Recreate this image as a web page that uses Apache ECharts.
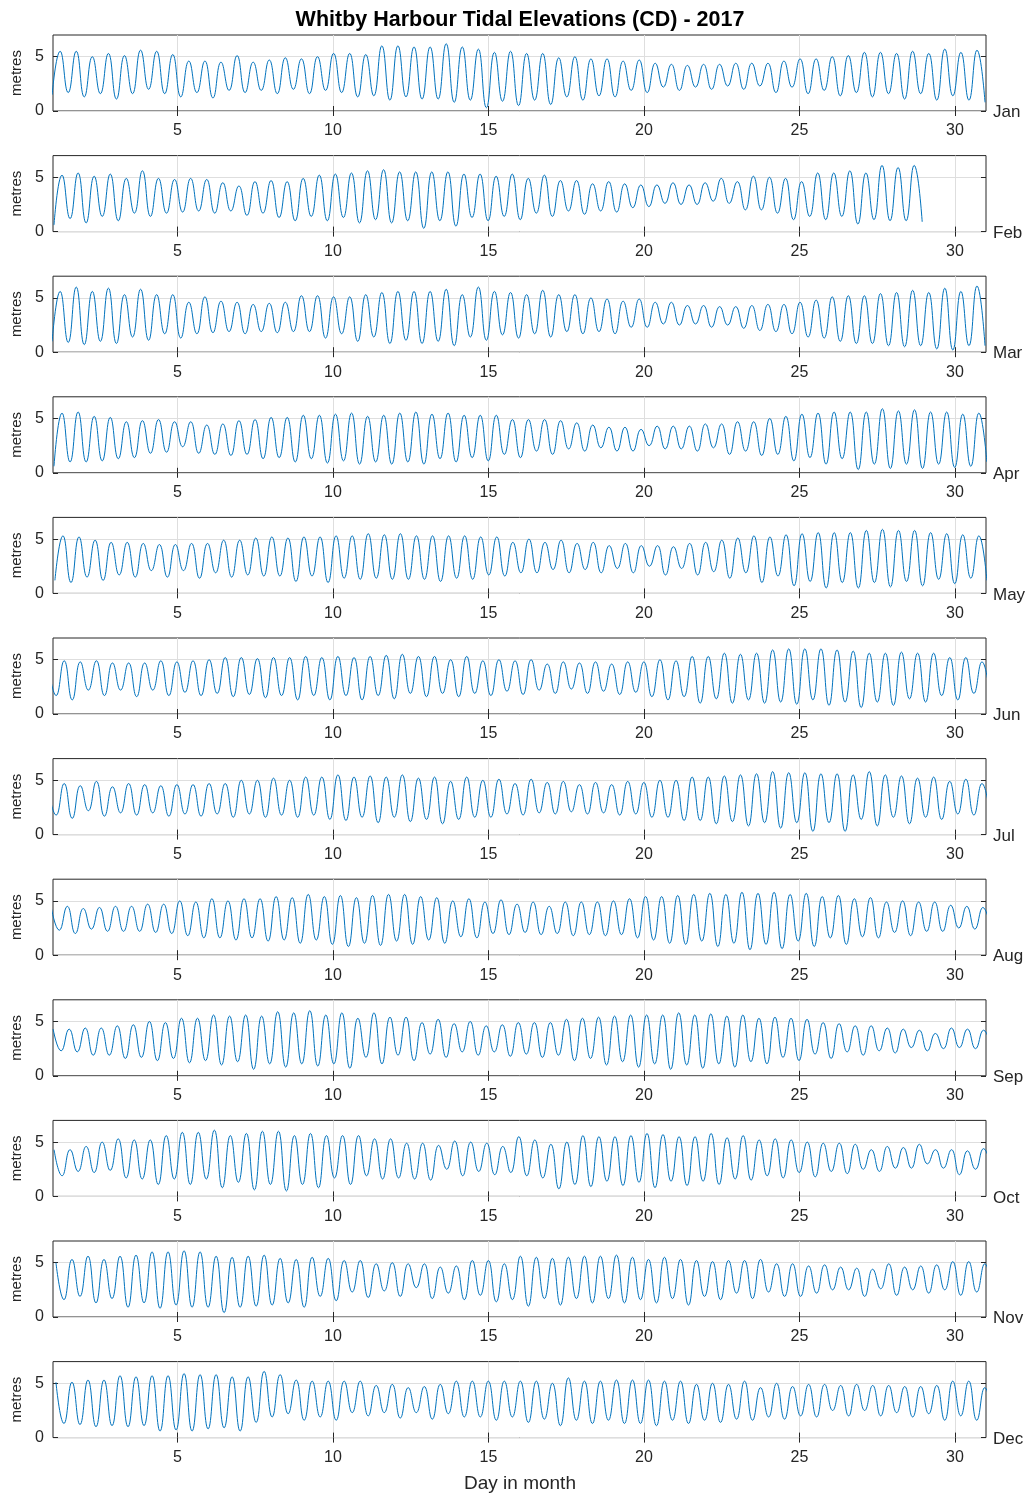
<!DOCTYPE html>
<html>
<head>
<meta charset="utf-8">
<script src="https://cdn.jsdelivr.net/npm/echarts@6/dist/echarts.min.js"></script>
<style>
html,body{margin:0;padding:0;background:#fff;}
#chart{width:1030px;height:1496px;}
</style>
</head>
<body>
<div id="chart"></div>
<script>
// ---- Data ----
const months = ['Jan','Feb','Mar','Apr','May','Jun','Jul','Aug','Sep','Oct','Nov','Dec'];
const xTicks = [5,10,15,20,25,30];
const yTicks = [0,5];
// time (day in month) of first and last high water in each panel
const firstHigh = [1.23,1.29,1.23,1.29,1.32,1.36,1.36,1.46,1.52,1.55,1.61,1.61];
const lastHigh  = [30.71,28.69,30.71,30.77,30.77,30.87,30.87,30.90,30.92,30.92,30.96,30.96];
// high water preceding the first low (only where the panel starts on a falling tide)
const leadHigh  = [null,null,null,null,null,4.7,4.3,4.4,4.3,4.3,5.0,5.1];

// successive high-water heights (m)
const janHigh = [5.5,5.5,5.0,5.3,5.1,5.6,5.5,5.2,4.6,4.6, 4.5,5.1,4.5,4.7,4.9,4.8,5.0,5.3,5.3,5.2, 6.0,6.0,5.9,5.9,6.2,5.9,5.7,5.4,5.5,5.3, 5.3,4.9,5.0,4.8,4.8,4.6,4.7,4.4,4.3,4.2, 4.3,4.3,4.4,4.4,4.4,4.6,4.8,4.8,5.0,5.1, 5.4,5.4,5.3,5.5,5.3,5.7,5.4,5.6];
const febHigh = [5.2,5.4,5.1,5.3,4.9,5.6,4.9,4.8,4.9,4.8, 4.5,4.2,4.6,4.7,4.6,4.9,5.2,5.3,5.4,5.6, 5.7,5.5,5.5,5.5,5.5,5.3,5.3,5.1,5.3,4.9, 5.2,4.7,4.7,4.4,4.6,4.4,4.3,4.3,4.5,4.3, 4.5,4.9,4.6,5.1,5.0,4.9,4.6,5.4,5.4,5.6, 5.4,6.1,5.9,6.1];
const marHigh = [5.6,6.0,5.6,5.9,5.3,5.8,5.3,5.3,4.6,5.1, 4.7,4.6,4.4,4.5,4.6,5.2,5.2,5.1,5.1,5.3, 5.5,5.6,5.6,5.6,5.8,5.3,6.0,5.6,5.5,5.3, 5.7,5.3,5.3,5.0,4.9,4.7,4.9,4.6,4.6,4.3, 4.3,4.2,4.2,4.3,4.4,4.4,4.6,4.8,5.1,5.2, 5.2,5.4,5.5,5.7,5.5,5.9,5.6,6.1];
const aprHigh = [5.5,5.6,5.2,5.1,4.7,4.8,4.9,4.7,4.7,4.4, 4.5,4.8,4.9,5.1,5.1,5.3,5.3,5.4,5.5,5.2, 5.3,5.5,5.6,5.4,5.5,5.3,5.3,5.3,4.9,4.9, 4.9,4.8,4.6,4.4,4.2,4.2,4.0,4.3,4.3,4.3, 4.5,4.5,4.7,4.7,5.0,5.2,5.4,5.5,5.6,5.6, 5.6,5.9,5.7,5.8,5.6,5.6,5.4,5.5];
const mayHigh = [5.3,5.2,4.9,4.7,4.7,4.6,4.5,4.5,4.6,4.6, 4.9,4.9,5.1,5.2,5.1,5.2,5.2,5.3,5.3,5.5, 5.4,5.5,5.3,5.3,5.3,5.3,5.2,5.2,4.7,5.0, 4.7,4.9,4.6,4.7,4.4,4.6,4.4,4.4,4.3,4.6, 4.7,4.9,5.1,5.3,5.2,5.4,5.5,5.6,5.6,5.6, 5.8,5.9,5.8,5.8,5.6,5.5,5.4,5.3];
const junHigh = [4.9,4.8,4.9,4.7,4.7,4.7,4.9,4.8,4.9,5.0, 5.2,5.2,5.1,5.2,5.2,5.3,5.2,5.3,5.2,5.3, 5.4,5.5,5.3,5.3,5.0,5.3,4.9,5.0,4.9,5.0, 4.6,4.8,4.7,4.8,4.6,4.8,4.8,5.0,4.9,5.3, 5.3,5.6,5.5,5.6,5.9,6.0,6.0,6.0,5.9,5.8, 5.6,5.6,5.7,5.6,5.6,5.2,5.2,4.8];
const julHigh = [4.7,4.5,4.9,4.4,4.7,4.6,4.5,4.6,4.6,4.7, 4.7,5.0,5.0,5.2,5.0,5.3,5.3,5.5,5.3,5.4, 5.3,5.5,5.2,5.3,4.9,5.3,5.0,5.1,4.7,5.1, 4.8,4.9,4.6,4.8,4.6,4.9,4.8,5.0,5.0,5.3, 5.3,5.4,5.5,5.6,5.8,5.7,5.7,5.6,5.6,5.5, 5.8,5.5,5.4,5.2,5.3,4.9,5.1,4.7];
const augHigh = [4.5,4.3,4.4,4.5,4.5,4.7,4.7,5.0,4.9,5.2, 5.0,5.2,5.2,5.4,5.3,5.6,5.4,5.5,5.3,5.5, 5.6,5.6,5.4,5.3,5.0,5.2,4.9,5.1,4.7,4.9, 4.5,4.9,4.9,4.9,5.0,5.2,5.4,5.4,5.5,5.6, 5.7,5.6,5.8,5.7,5.8,5.6,5.7,5.4,5.5,5.2, 5.3,4.9,5.0,4.9,4.9,4.6,4.5,4.4];
const sepHigh = [4.3,4.4,4.4,4.6,4.7,5.0,4.9,5.3,5.3,5.6, 5.5,5.6,5.5,5.9,5.8,6.0,5.6,5.8,5.3,5.8, 5.4,5.4,4.9,5.2,4.8,5.0,4.6,4.7,4.9,4.9, 4.9,5.2,5.3,5.4,5.5,5.6,5.6,5.6,5.8,5.6, 5.7,5.5,5.6,5.3,5.4,5.3,5.2,4.9,4.8,4.6, 4.6,4.4,4.3,4.2,3.9,4.4,4.3,4.2];
const octHigh = [4.3,4.6,5.0,5.3,5.2,5.2,5.6,5.9,5.9,6.1, 5.6,5.8,6.0,6.0,5.6,5.8,5.6,5.6,5.6,5.3, 5.3,4.9,4.9,4.7,5.1,5.0,4.9,4.6,5.5,5.2, 4.8,5.0,5.6,5.5,5.5,5.6,5.8,5.7,5.5,5.5, 5.8,5.4,5.6,5.2,5.3,5.2,5.0,4.9,4.9,4.8, 4.3,4.6,4.5,4.8,4.3,4.3,4.2,4.4];
const novHigh = [5.3,5.6,5.3,5.6,5.7,6.0,6.0,6.1,6.0,5.6, 5.5,5.6,5.7,5.4,5.3,5.5,5.4,5.2,5.2,4.9, 5.0,4.9,4.9,4.6,4.7,5.2,5.2,4.9,5.6,5.5, 5.4,5.5,5.6,5.6,5.7,5.5,5.3,5.5,5.3,5.2, 5.1,5.2,5.2,5.3,4.9,4.9,4.7,4.8,4.6,4.5, 4.4,4.9,4.6,4.7,4.8,5.1,5.1,4.9];
const decHigh = [5.1,5.3,5.3,5.7,5.6,5.7,5.7,5.9,5.8,5.8, 5.6,5.6,6.1,5.8,5.3,5.2,5.2,5.2,5.2,4.8, 4.9,4.6,4.7,4.9,5.2,5.2,5.2,5.2,5.2,5.2, 5.0,5.5,5.2,5.2,5.3,5.3,5.3,5.2,5.2,4.9, 5.0,4.9,5.2,4.6,5.0,4.7,4.9,4.9,4.8,4.9, 4.8,4.8,4.7,4.7,4.8,5.2,5.2,4.6];

// successive low-water heights (m); the first low precedes the first high
const janLow = [1.5, 1.7,1.3,1.6,1.1,1.6,2.0,1.6,1.3,1.7,1.2, 1.9,1.7,1.9,1.6,2.0,1.6,1.9,1.7,1.3,1.4, 1.0,1.3,1.1,1.1,0.8,1.0,0.3,0.9,0.5,1.0, 0.6,1.3,1.0,1.4,1.3,1.9,1.7,2.2,1.9,2.2, 2.0,2.3,2.0,2.3,1.7,2.2,1.6,1.9,1.4,1.7, 1.3,1.6,1.1,1.6,1.0,1.4,1.0,0.8];
const febLow = [0.6, 1.2,0.8,1.4,1.0,1.7,1.4,1.7,1.8,1.9,1.7, 1.9,1.5,1.7,1.3,1.0,1.4,1.0,1.3,0.8,1.1, 0.8,1.0,0.3,1.0,0.5,1.3,1.0,1.4,1.1,1.7, 1.4,1.9,1.6,1.9,1.8,2.2,2.3,2.6,2.5,2.5, 2.8,2.6,2.0,2.0,1.7,1.1,1.4,1.1,1.4,0.7, 1.1,1.0,1.0,0.9];
const marLow = [1.0, 0.9,0.7,1.0,0.8,1.4,1.1,1.7,1.3,1.7,1.8, 1.9,1.7,1.9,1.8,1.9,1.9,1.3,1.7,1.0,1.4, 0.8,1.1,0.8,1.0,0.6,1.4,1.1,1.6,1.3,1.7, 1.4,1.9,1.7,1.9,1.7,2.3,2.3,2.6,2.5,2.6, 2.3,2.5,2.2,2.0,1.9,1.7,1.4,1.3,1.0,0.8, 0.8,0.6,0.5,0.6,0.3,0.2,0.6,0.6];
const aprLow = [0.6, 1.0,1.0,1.1,1.3,1.4,1.8,1.9,2.4,1.8,1.7, 1.6,1.7,1.3,1.4,1.0,1.3,0.9,1.1,0.8,1.0, 0.8,1.0,0.8,1.3,1.0,1.4,1.1,1.7,1.4,2.0, 1.7,2.2,2.0,2.3,2.0,2.0,2.5,2.2,2.2,2.0, 2.3,1.7,2.0,1.6,1.7,1.1,1.4,0.8,1.3,0.3, 0.8,0.4,0.8,0.4,0.8,0.5,0.6,1.0];
const mayLow = [1.2, 1.0,1.5,1.2,1.7,1.5,2.1,1.5,2.1,1.4,1.9, 1.5,1.7,1.6,1.6,1.1,1.6,1.0,1.4,1.3,1.4, 1.3,1.3,1.3,1.1,1.4,1.3,1.7,1.6,1.9,1.9, 2.2,1.9,2.2,1.9,2.3,1.9,2.5,1.7,2.3,1.7, 2.0,1.4,1.9,1.0,1.6,0.7,1.1,0.5,1.0,0.5, 1.0,0.6,1.1,0.7,1.3,0.9,1.4,1.2];
const junLow = [1.7, 1.3,2.2,1.7,2.2,1.6,2.2,1.7,2.0,1.7,1.9, 1.6,1.8,1.5,1.7,1.3,1.7,1.3,1.7,1.3,1.7, 1.4,1.9,1.6,1.9,1.6,1.9,1.7,2.1,1.8,2.2, 1.9,2.3,1.9,2.1,1.8,2.0,1.6,1.3,1.6,1.0, 1.4,1.0,1.3,1.0,1.1,0.9,1.3,0.8,1.1,0.6, 1.1,0.8,1.4,1.1,1.7,1.3,1.9,1.7];
const julLow = [1.8, 1.5,2.2,1.7,2.0,1.8,2.0,1.7,1.9,1.7,1.9, 1.6,1.9,1.6,1.8,1.6,1.8,1.4,1.3,1.6,1.1, 1.6,1.2,1.4,1.0,1.4,1.6,1.6,1.9,1.8,2.0, 1.9,2.1,1.9,2.0,1.8,1.9,1.6,1.6,1.3,1.3, 1.0,1.2,0.8,1.1,0.6,1.1,0.3,1.1,0.3,1.4, 0.8,1.6,1.0,1.6,1.4,1.9,1.8,1.9];
const augLow = [2.3, 2.0,2.4,2.2,2.2,2.2,2.1,2.0,1.8,1.6,1.6, 1.4,1.6,1.3,1.4,1.1,1.4,1.0,0.8,1.1,0.9, 1.3,1.0,1.4,1.1,1.7,1.6,2.0,1.9,2.1,1.9, 2.0,1.8,1.9,1.8,1.9,1.6,1.4,1.1,1.0,1.3, 0.8,1.1,0.5,1.0,0.6,1.3,0.8,1.6,1.0,1.7, 1.6,2.1,1.8,2.2,2.2,2.5,2.4,2.3];
const sepLow = [2.3, 2.2,1.9,1.9,1.6,1.7,1.4,1.6,1.2,1.4,1.0, 1.3,0.6,1.1,0.8,1.1,0.9,1.1,0.7,1.7,1.1, 1.9,1.4,2.0,1.7,2.2,1.9,2.2,1.8,2.0,1.7, 1.9,1.4,1.6,1.0,1.3,0.8,1.1,0.6,1.0,0.7, 1.1,0.8,1.3,1.1,1.7,1.4,2.0,1.6,2.2,1.9, 2.3,2.1,2.6,2.3,2.5,2.6,2.5,2.5];
const octLow = [1.9, 2.3,2.2,2.4,1.7,1.6,1.1,1.6,1.1,1.6,0.8, 1.3,0.6,1.1,0.5,1.1,0.8,1.7,1.1,1.9,1.6, 1.7,1.6,1.5,2.5,1.9,2.3,2.0,2.2,1.9,1.7, 0.7,1.1,0.9,1.4,1.0,1.3,0.8,1.4,1.0,1.4, 1.1,1.6,1.5,1.9,1.7,2.2,1.8,2.3,2.1,2.5, 2.3,2.6,2.6,3.0,2.6,2.0,2.5,2.5];
const novLow = [1.6, 1.9,1.3,1.7,0.9,1.3,0.8,1.1,0.9,0.9,0.4, 0.9,1.0,1.1,1.3,0.9,1.9,1.5,2.3,1.8,2.4, 1.9,2.7,1.7,2.2,1.6,2.0,1.4,1.6,1.0,1.7, 1.1,1.7,1.3,1.7,1.3,1.6,1.3,1.7,1.1,1.9, 1.6,2.2,1.7,2.3,1.9,1.9,2.2,2.5,2.5,1.9, 2.6,2.0,2.5,2.2,2.5,2.0,2.3,2.0];
const decLow = [1.3, 1.2,1.0,1.1,1.0,1.1,0.6,0.7,0.6,0.8,0.9, 0.6,1.4,1.9,2.2,1.6,1.9,1.6,2.3,2.0,2.3, 1.8,2.3,1.7,2.2,1.9,1.9,1.6,1.9,1.4,1.7, 1.1,1.6,1.3,1.6,1.3,1.3,1.1,1.6,1.3,1.6, 1.4,1.7,1.6,1.9,1.7,2.0,1.9,2.5,2.0,2.5, 2.0,2.3,1.9,2.2,1.6,2.0,1.6,1.7];

const highs = [janHigh,febHigh,marHigh,aprHigh,mayHigh,junHigh,julHigh,augHigh,sepHigh,octHigh,novHigh,decHigh];
const lows  = [janLow,febLow,marLow,aprLow,mayLow,junLow,julLow,augLow,sepLow,octLow,novLow,decLow];

// ---- Build the turning-point series (time, height) ----
function turningPoints(m) {
  const H = highs[m], L = lows[m];
  const half = (lastHigh[m] - firstHigh[m]) / (H.length - 1) / 2;
  const pts = [];
  if (leadHigh[m] !== null) pts.push([firstHigh[m] - 2 * half, leadHigh[m]]);
  for (let i = 0; i < L.length; i++) {
    pts.push([firstHigh[m] + (2 * i - 1) * half, L[i]]);
    if (i < H.length) pts.push([firstHigh[m] + 2 * i * half, H[i]]);
  }
  return pts;
}

// ---- Layout ----
const FONT = '"Liberation Sans", Arial, Helvetica, sans-serif';
const AX = '#262626';
const GRIDC = '#dedede';
const LEFT = 53, WIDTH = 933, TOP0 = 35, STEP = 120.6, HEIGHT = 76;

const grid = [], xAxis = [], yAxis = [], series = [], graphic = [];
months.forEach((name, m) => {
  const top = TOP0 + m * STEP;
  grid.push({left: LEFT, width: WIDTH, top: top, height: HEIGHT,
    show: true, borderColor: AX, borderWidth: 1, backgroundColor: '#fff'});
  xAxis.push({
    gridIndex: m, type: 'value', min: 1, max: 31, position: 'bottom',
    axisLine: {show: false},
    axisTick: {show: true, inside: true, length: 5, customValues: xTicks, lineStyle: {color: AX}},
    axisLabel: {customValues: xTicks, fontSize: 16, color: AX, margin: 12, fontFamily: FONT},
    splitLine: {show: true, lineStyle: {color: GRIDC, width: 1}}
  });
  xAxis.push({
    gridIndex: m, type: 'value', min: 1, max: 31, position: 'top',
    axisLine: {show: false},
    axisTick: {show: true, inside: true, length: 5, customValues: xTicks, lineStyle: {color: AX}},
    axisLabel: {show: false}, splitLine: {show: false}
  });
  yAxis.push({
    gridIndex: m, type: 'value', min: 0, max: 7, position: 'left',
    axisLine: {show: false},
    axisTick: {show: true, inside: true, length: 5, customValues: yTicks, lineStyle: {color: AX}},
    axisLabel: {customValues: yTicks, fontSize: 16, color: AX, margin: 9, fontFamily: FONT},
    splitLine: {show: true, lineStyle: {color: GRIDC, width: 1}},
    name: 'metres', nameLocation: 'middle', nameGap: 28,
    nameTextStyle: {fontSize: 15, color: AX, fontFamily: FONT}
  });
  yAxis.push({
    gridIndex: m, type: 'value', min: 0, max: 7, position: 'right',
    axisLine: {show: false},
    axisTick: {show: true, inside: true, length: 5, customValues: yTicks, lineStyle: {color: AX}},
    axisLabel: {show: false}, splitLine: {show: false}
  });
  series.push({
    type: 'line', xAxisIndex: 2 * m, yAxisIndex: 2 * m,
    data: turningPoints(m), showSymbol: false, smooth: 0.5, clip: true,
    lineStyle: {color: '#0072BD', width: 1}, silent: true
  });
  // month name to the right of the panel's lower edge
  graphic.push({
    type: 'text', left: LEFT + WIDTH + 7, top: top + HEIGHT - 7,
    style: {text: name, fontSize: 17, fill: AX, fontFamily: FONT}
  });
});

const chart = echarts.init(document.getElementById('chart'), null, {renderer: 'canvas'});
chart.setOption({
  animation: false,
  backgroundColor: '#fff',
  title: [
    {text: 'Whitby Harbour Tidal Elevations (CD) - 2017', left: 520, top: 9, textAlign: 'center', padding: 0,
     textStyle: {fontSize: 21.5, fontWeight: 'bold', color: '#000', fontFamily: FONT}},
    {text: 'Day in month', left: 520, top: 1474, textAlign: 'center', padding: 0,
     textStyle: {fontSize: 19, fontWeight: 'normal', color: AX, fontFamily: FONT}}
  ],
  graphic: graphic,
  grid: grid, xAxis: xAxis, yAxis: yAxis, series: series
});
</script>
</body>
</html>
